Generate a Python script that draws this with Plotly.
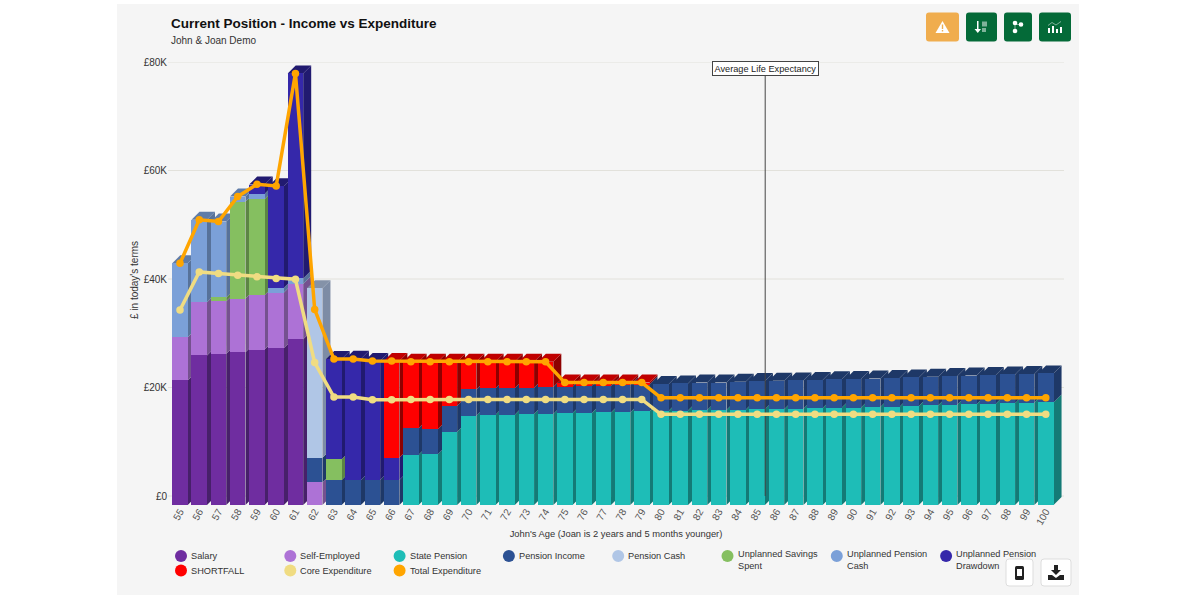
"""
Income vs expenditure chart with oblique 3D columns.
"""

import numpy as np
import plotly.graph_objects as go

ages = list(range(55, 101))

# stacked income series, bottom to top, in pounds (one value per age, 55 to 100)
salary = [21300, 25900, 26200, 26500, 27000, 27300, 28900] + [0] * 39
self_employed = [7950, 9800, 9700, 9900, 10050, 10200, 10200, 2500] + [0] * 38
state_pension = [0] * 12 + [
    7600, 7700, 11850, 14800, 15000, 15000, 15100, 15100, 15300, 15300, 15400, 15400, 15600,
    15700, 15750, 15850, 15850, 15900, 16000, 16000, 16100, 16200, 16300, 16300,
    16400, 16450, 16600, 16700, 16800, 16900, 17000, 17100, 17200, 17250,
]
pension_income = [0] * 7 + [
    4570, 2950, 2950, 2950, 2950, 4900, 4600, 4800, 4850, 4850, 4850, 4870, 5000,
    4850, 5000, 4900, 5050, 5000, 4950, 5000, 5050, 5050, 5150, 5200, 5250, 5200,
    5200, 5200, 5250, 5250, 5300, 5250, 5300, 5300, 5300, 5300, 5300, 5300, 5350,
]
pension_cash = [0] * 7 + [31230] + [0] * 38
savings_spent = [0, 0, 700, 17850, 17700, 0, 0, 0, 3820] + [0] * 37
unplanned_cash = [13650, 15200, 14000, 950, 950, 900, 1000] + [0] * 39
unplanned_drawdown = [0, 0, 0, 0, 1700, 18700, 37800, 0, 18480, 22350, 21950, 4120] + [0] * 34
shortfall = [0] * 11 + [
    17830, 12250, 12450, 8100, 5100, 4900, 4900, 4780, 4650, 750, 600, 600, 450, 300,
] + [0] * 21

core_expenditure = [
    34300, 41300, 41000, 40700, 40400, 40100, 39950, 24600, 18250, 18250, 17750, 17750,
    17800, 17800, 17800, 17800, 17800, 17800, 17800, 17800, 17800, 17800, 17800, 17800, 17800,
    15050, 15050, 15050, 15050, 15050, 15050, 15050, 15050, 15050, 15050, 15050, 15050,
    15050, 15050, 15050, 15050, 15050, 15050, 15050, 15050, 15050,
]
total_expenditure = [
    42900, 50900, 50600, 55200, 57450, 57150, 77900, 34400, 25250, 25250, 24900, 24900,
    24750, 24750, 24750, 24750, 24750, 24750, 24750, 24750, 20900, 20900, 20900, 20900, 20900,
    18100, 18100, 18100, 18100, 18100, 18100, 18100, 18100, 18100, 18100, 18100, 18100,
    18100, 18100, 18100, 18100, 18100, 18100, 18100, 18100, 18100,
]
life_expectancy_age = 85

y_ticks = [0, 20000, 40000, 60000, 80000]
y_labels = ["£0", "£20K", "£40K", "£60K", "£80K"]

# name, values, front colour, side colour, top colour
stack = [
    ("Salary", salary, "#6F2DA0", "#47206A", "#47206A"),
    ("Self-Employed", self_employed, "#AD72D6", "#75518F", "#75518F"),
    ("State Pension", state_pension, "#1EBDB7", "#147A76", "#147A76"),
    ("Pension Income", pension_income, "#2C5193", "#1E3867", "#1E3867"),
    ("Pension Cash", pension_cash, "#B0C6E6", "#7D8CA5", "#8492A8"),
    ("Unplanned Savings Spent", savings_spent, "#85BF60", "#5C8544", "#5C8544"),
    ("Unplanned Pension Cash", unplanned_cash, "#7BA0D8", "#57729A", "#5F7CA8"),
    ("Unplanned Pension Drawdown", unplanned_drawdown, "#3528AA", "#211A70", "#211A70"),
    ("SHORTFALL", shortfall, "#FF0000", "#8E0000", "#C00000"),
]

legend_rows = [
    [("Salary", "#6F2DA0"), ("Self-Employed", "#AD72D6"), ("State Pension", "#1EBDB7"),
     ("Pension Income", "#2C5193"), ("Pension Cash", "#B0C6E6"),
     ("Unplanned Savings<br>Spent", "#85BF60"), ("Unplanned Pension<br>Cash", "#7BA0D8"),
     ("Unplanned Pension<br>Drawdown", "#3528AA")],
    [("SHORTFALL", "#FF0000"), ("Core Expenditure", "#F0DC82"), ("Total Expenditure", "#FFA500")],
]

W, H = 1200, 600
L, R, T, B = 168, 136, 62, 95
FONT = "Liberation Sans"

# axis scales: 19.24 px per year, 5.425 px per thousand pounds
PX_X = 19.24
PX_Y = 5.425 / 1000
BAR_W = 15.5 / PX_X
DEPTH_X = 8 / PX_X
DEPTH_Y = 8 / PX_Y
FLOOR = -9 / PX_Y
X_RANGE = [55 - 12 / PX_X, 55 + 884 / PX_X]


def px(x):
    return (x - L) / (W - L - R)


def py(y):
    return 1 - (y - T) / (H - T - B)


def ui_path(points, fill, line=None, width=0):
    path = "M " + " L ".join(f"{px(x):.5f} {py(y):.5f}" for x, y in points) + " Z"
    return dict(type="path", xref="paper", yref="paper", path=path, fillcolor=fill,
                line=dict(color=line or fill, width=width), layer="above")


def ui_rect(x0, y0, x1, y1, fill, line=None, width=0, radius=3):
    r = radius
    path = (
        f"M {px(x0 + r)} {py(y0)} L {px(x1 - r)} {py(y0)} Q {px(x1)} {py(y0)} {px(x1)} {py(y0 + r)} "
        f"L {px(x1)} {py(y1 - r)} Q {px(x1)} {py(y1)} {px(x1 - r)} {py(y1)} "
        f"L {px(x0 + r)} {py(y1)} Q {px(x0)} {py(y1)} {px(x0)} {py(y1 - r)} "
        f"L {px(x0)} {py(y0 + r)} Q {px(x0)} {py(y0)} {px(x0 + r)} {py(y0)} Z"
    )
    return dict(type="path", xref="paper", yref="paper", path=path, fillcolor=fill,
                line=dict(color=line or fill, width=width), layer="above")


def ui_dot(cx, cy, size, fill):
    return dict(type="circle", xref="paper", yref="paper", x0=px(cx - size), x1=px(cx + size),
                y0=py(cy + size), y1=py(cy - size), fillcolor=fill, line=dict(width=0), layer="above")


def face(points, colour):
    path = "M " + " L ".join(f"{x:.3f} {y:.1f}" for x, y in points) + " Z"
    return dict(type="path", xref="x", yref="y", path=path, fillcolor=colour,
                line=dict(width=0), layer="below")


# cumulative segment limits for every series
values = np.array([s[1] for s in stack], dtype=float)
tops = values.cumsum(axis=0)
bottoms = tops - values
bottoms[bottoms == 0] = FLOOR

fig = go.Figure()
shapes = [dict(type="rect", xref="paper", yref="paper", x0=px(117), x1=px(1079), y0=py(595), y1=py(4),
               fillcolor="#F5F5F5", line=dict(width=0), layer="below")]

# gridlines as shapes, the axis grid would paint over the side faces
for tick in y_ticks:
    shapes.append(dict(type="line", xref="x", yref="y", x0=X_RANGE[0], x1=X_RANGE[1], y0=tick, y1=tick,
                       line=dict(color="#E2E1DB", width=1), layer="below"))

# side and top faces, left to right so that later columns cover earlier ones
for i, age in enumerate(ages):
    right = age + BAR_W / 2
    left = age - BAR_W / 2
    last = None
    for j, (_, vals, _, side, _) in enumerate(stack):
        if vals[i] <= 0:
            continue
        b, t = bottoms[j, i], tops[j, i]
        shapes.append(face([(right, b), (right + DEPTH_X, b + DEPTH_Y),
                            (right + DEPTH_X, t + DEPTH_Y), (right, t)], side))
        last = j
    t = tops[last, i]
    shapes.append(face([(left, t), (right, t), (right + DEPTH_X, t + DEPTH_Y),
                        (left + DEPTH_X, t + DEPTH_Y)], stack[last][4]))

# front faces
for j, (name, vals, colour, _, _) in enumerate(stack):
    heights = [tops[j, i] - bottoms[j, i] if vals[i] > 0 else None for i in range(len(ages))]
    fig.add_trace(go.Bar(
        x=ages, y=heights, base=bottoms[j], name=name, width=BAR_W,
        marker=dict(color=colour, line=dict(width=0)), showlegend=False,
    ))

# life expectancy marker sits on the back wall of the chart
fig.add_trace(go.Scatter(
    x=[life_expectancy_age + DEPTH_X] * 2, y=[0, 77500], mode="lines",
    line=dict(color="#444444", width=1), showlegend=False, hoverinfo="skip",
))
fig.add_trace(go.Scatter(
    x=ages, y=core_expenditure, name="Core Expenditure", mode="lines+markers",
    line=dict(color="#F0DC82", width=3.5), marker=dict(color="#F0DC82", size=7.5), showlegend=False,
))
fig.add_trace(go.Scatter(
    x=ages, y=total_expenditure, name="Total Expenditure", mode="lines+markers",
    line=dict(color="#FFA500", width=3.5), marker=dict(color="#FFA500", size=7.5), showlegend=False,
))

annotations = [
    dict(x=life_expectancy_age + DEPTH_X, y=py(68), xref="x", yref="paper", text="Average Life Expectancy",
         showarrow=False, yanchor="middle", bgcolor="#FFFFFF", bordercolor="#444444", borderwidth=1, borderpad=1.5,
         font=dict(size=9.2, color="#222222", family=FONT)),
    dict(x=px(169), y=py(24), xref="paper", yref="paper", text="<b>Current Position - Income vs Expenditure</b>",
         showarrow=False, xanchor="left", yanchor="middle", font=dict(size=13.5, color="#111111", family=FONT)),
    dict(x=px(169), y=py(40.5), xref="paper", yref="paper", text="John &amp; Joan Demo",
         showarrow=False, xanchor="left", yanchor="middle", font=dict(size=10, color="#333333", family=FONT)),
    dict(x=px(134), y=py(280), xref="paper", yref="paper", text="£ in today's terms", textangle=-90,
         showarrow=False, xanchor="center", yanchor="middle", font=dict(size=10, color="#333333", family=FONT)),
]

# legend drawn by hand: the columns and wrapped labels do not fit the native one
for row, entries in enumerate(legend_rows):
    for col, (label, colour) in enumerate(entries):
        x = 181 + col * 109.3
        y = 556 + row * 14.5
        shapes.append(ui_dot(x, y, 6, colour))
        lift = 2 if "<br>" in label else 0
        annotations.append(dict(
            x=px(x + 9), y=py(y - 6 - lift), xref="paper", yref="paper", text=label, showarrow=False,
            xanchor="left", yanchor="top", align="left", borderpad=0,
            font=dict(size=9.2, color="#333333", family=FONT),
        ))

# toolbar buttons
GREEN = "#046A38"
shapes += [
    ui_rect(926, 12.5, 959, 41.5, "#F0AD4E"),
    ui_rect(966, 12.5, 997, 41.5, GREEN),
    ui_rect(1004, 12.5, 1032, 41.5, GREEN),
    ui_rect(1039, 12.5, 1071, 41.5, GREEN),
    ui_rect(1006, 559, 1033, 586, "#FFFFFF", "#DDDDDD", 1),
    ui_rect(1041, 559, 1071, 586, "#FFFFFF", "#DDDDDD", 1),
    # warning triangle
    ui_path([(942.5, 21), (949.5, 33), (935.5, 33)], "#FFFFFF"),
    ui_path([(941.8, 24.5), (943.2, 24.5), (943.2, 29), (941.8, 29)], "#F0AD4E"),
    ui_path([(941.8, 30), (943.2, 30), (943.2, 31.5), (941.8, 31.5)], "#F0AD4E"),
    # sort icon
    ui_path([(977, 21), (978.5, 21), (978.5, 29), (981, 29), (977.8, 33), (974.5, 29), (977, 29)], "#FFFFFF"),
    ui_path([(982, 21.5), (987, 21.5), (987, 26.5), (982, 26.5)], "#7FB39A"),
    ui_path([(982, 28), (986, 28), (986, 32), (982, 32)], "#7FB39A"),
    # nodes icon
    ui_path([(1014.5, 24), (1015.5, 24), (1015.5, 31), (1014.5, 31)], "#7FB39A"),
    ui_path([(1015, 24), (1020, 24), (1020, 25), (1015, 25)], "#7FB39A"),
    ui_dot(1015, 23, 2.3, "#FFFFFF"),
    ui_dot(1021, 24.5, 2.3, "#FFFFFF"),
    ui_dot(1015, 31, 2.3, "#FFFFFF"),
    # chart icon
    ui_path([(1048, 28), (1050, 28), (1050, 33), (1048, 33)], "#FFFFFF"),
    ui_path([(1052, 26), (1054, 26), (1054, 33), (1052, 33)], "#FFFFFF"),
    ui_path([(1056, 29), (1058, 29), (1058, 33), (1056, 33)], "#FFFFFF"),
    ui_path([(1060, 27), (1062, 27), (1062, 33), (1060, 33)], "#FFFFFF"),
    ui_path([(1048, 25), (1052, 22), (1056, 24.5), (1061, 21), (1061, 22), (1056, 25.5), (1052, 23), (1048, 26)], "#7FB39A"),
    # phone icon
    ui_rect(1015, 566, 1024, 580, "#222222", radius=1.5),
    ui_path([(1017, 569), (1022, 569), (1022, 576), (1017, 576)], "#FFFFFF"),
    # download icon
    ui_path([(1054, 565), (1058, 565), (1058, 570), (1061, 570), (1056, 575), (1051, 570), (1054, 570)], "#222222"),
    ui_path([(1048, 575), (1052, 575), (1056, 578), (1060, 575), (1064, 575), (1064, 580), (1048, 580)], "#222222"),
]

fig.update_layout(
    width=W, height=H, margin=dict(l=L, r=R, t=T, b=B),
    paper_bgcolor="#FFFFFF", plot_bgcolor="rgba(0,0,0,0)",
    barmode="overlay", bargap=0, showlegend=False,
    font=dict(family=FONT, size=10, color="#333333"),
    shapes=shapes, annotations=annotations,
    xaxis=dict(
        range=X_RANGE, tickmode="array", tickvals=ages,
        ticktext=[str(a) for a in ages], tickangle=-60, showgrid=False, zeroline=False,
        ticks="", showline=False, tickfont=dict(size=10, color="#555555"), ticklabelstandoff=-2,
        title=dict(text="John's Age (Joan is 2 years and 5 months younger)", standoff=4,
                   font=dict(size=9.35, color="#333333")),
    ),
    yaxis=dict(
        range=[FLOOR, 80000], tickmode="array", tickvals=y_ticks, ticktext=y_labels,
        showgrid=False, zeroline=False, showline=False,
        tickfont=dict(size=10, color="#333333"),
    ),
)

# the page's default body margin would push the chart 8 px off
fig.write_html("out.html", config={"displayModeBar": False},
               post_script="document.body.style.margin = '0';")
